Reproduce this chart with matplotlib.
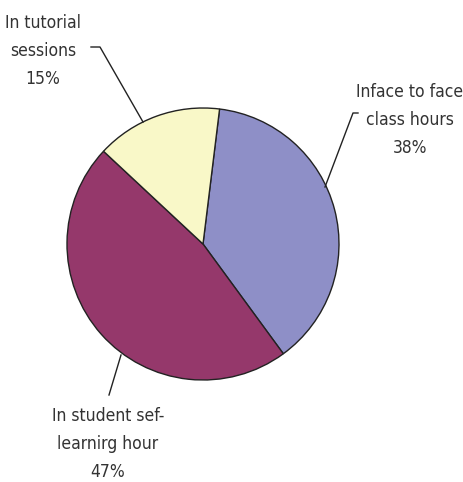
import matplotlib
matplotlib.use('Agg')
import matplotlib.pyplot as plt

labels = ['Inface to face\nclass hours', 'In student sef-\nlearnirg hour', 'In tutorial\nsessions']
shares = [38, 47, 15]
colors = ['#8E8FC7', '#95386B', '#F9F8C8']

W, H = 463, 482
fig = plt.figure(figsize=(W / 100, H / 100), dpi=100)
ax = fig.add_axes([0, 0, 1, 1])

cx, cy, r = 203, H - 244, 136
ax.pie(shares, colors=colors, startangle=83, counterclock=False,
       center=(cx, cy), radius=r, frame=True,
       wedgeprops=dict(edgecolor='#222222', linewidth=1.0))
ax.set_xlim(0, W)
ax.set_ylim(0, H)
ax.set_aspect('equal')
ax.axis('off')

# leader lines (pixel coords, y measured from top)
leaders = [
    [(325, 187), (353, 113), (358, 113)],
    [(121, 355), (109, 395)],
    [(143, 122), (100, 47), (91, 47)],
]
# centre of the middle text line
text_pos = [(410, 120), (108, 444), (43, 51)]

for lab, val, pts, (tx, ty) in zip(labels, shares, leaders, text_pos):
    xs = [p[0] for p in pts]
    ys = [H - p[1] for p in pts]
    ax.plot(xs, ys, color='#222222', lw=1.0)
    ax.text(tx, H - ty, f'{lab}\n{val}%', ha='center', va='center',
            fontsize=12.5, fontstretch='condensed', family='DejaVu Sans',
            color='#333333', linespacing=1.7)

fig.savefig('out.png', dpi=100)
